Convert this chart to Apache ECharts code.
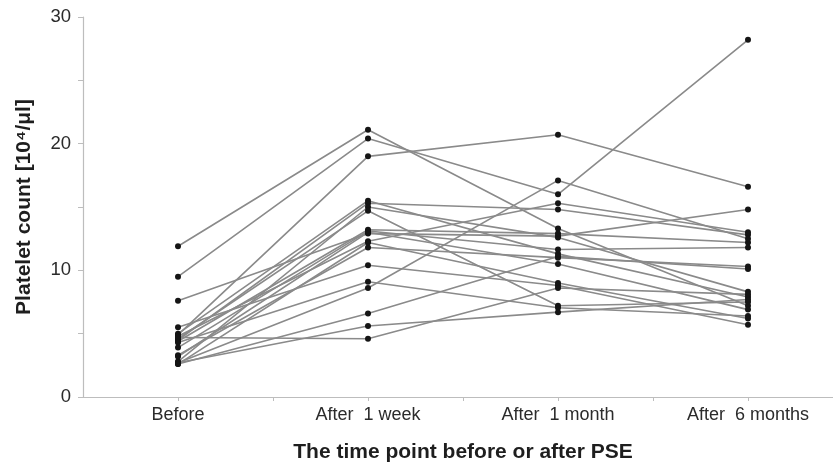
<!DOCTYPE html>
<html>
<head>
<meta charset="utf-8">
<script src="https://cdn.jsdelivr.net/npm/echarts@6/dist/echarts.min.js"></script>
<style>
  html, body { margin: 0; padding: 0; background: #fff; }
  #chart { width: 833px; height: 466px; }
</style>
</head>
<body>
<div id="chart"></div>
<script>
// time points
var categories = ['Before', 'After  1 week', 'After  1 month', 'After  6 months']
// platelet count per patient at each time point (10^4/ul), same patient order in every list
var before = [11.9, 9.5, 4.9, 7.6, 5.0, 4.5, 2.8, 4.6, 4.4, 3.9, 4.8, 3.3, 5.5, 4.3, 2.7, 2.6, 2.7, 4.7, 3.2, 2.6]
var week1 = [21.1, 20.4, 19.0, 12.9, 15.5, 15.3, 15.0, 14.7, 13.2, 13.1, 12.3, 11.8, 10.4, 9.1, 8.6, 6.6, 5.6, 4.6, 13.0, 12.2]
var month1 = [13.3, 16.0, 20.7, 12.7, 11.3, 14.8, 12.6, 7.2, 12.9, 11.65, 15.3, 11.0, 8.8, 7.05, 17.1, 11.1, 6.7, 8.6, 10.5, 9.0]
var month6 = [7.2, 28.2, 16.6, 14.8, 7.9, 12.8, 8.3, 7.5, 12.2, 11.8, 13.0, 10.3, 5.7, 6.4, 12.5, 10.1, 7.7, 8.1, 6.9, 6.2]
var yTicks = [0, 10, 20, 30]

var chart = echarts.init(document.getElementById('chart'))

var series = []
for (var i = 0; i < before.length; i++) {
  series.push({
    type: 'line',
    data: [[1, before[i]], [2, week1[i]], [3, month1[i]], [4, month6[i]]],
    symbol: 'circle',
    symbolSize: 6,
    itemStyle: { color: '#151515' },
    lineStyle: { color: '#8a8a8a', width: 1.6 },
    emphasis: { disabled: true },
    z: 2
  })
}

chart.setOption({
  animation: false,
  grid: { left: 83, top: 17, bottom: 69, width: 760, outerBoundsMode: 'none' },
  xAxis: {
    type: 'value',
    min: 0.5,
    max: 4.5,
    interval: 0.5,
    splitLine: { show: false },
    axisLine: { lineStyle: { color: '#bdbdbd', width: 1.2 } },
    axisTick: { show: true, length: 4, lineStyle: { color: '#bdbdbd' } },
    axisLabel: {
      margin: 9,
      fontFamily: 'Liberation Sans',
      fontSize: 18,
      color: '#2b2b2b',
      showMinLabel: false,
      showMaxLabel: false,
      formatter: function (v) {
        return v % 1 === 0 ? categories[v - 1] : ''
      }
    },
    name: 'The time point before or after PSE',
    nameLocation: 'middle',
    nameGap: 45,
    nameTextStyle: { fontFamily: 'Liberation Sans', fontSize: 21, fontWeight: 'bold', color: '#1e1e1e' }
  },
  yAxis: {
    type: 'value',
    min: 0,
    max: 30,
    interval: 5,
    splitLine: { show: false },
    axisLine: { show: true, lineStyle: { color: '#bdbdbd', width: 1.2 } },
    axisTick: { show: true, length: 5, lineStyle: { color: '#bdbdbd' } },
    axisLabel: {
      margin: 12,
      fontFamily: 'Liberation Sans',
      fontSize: 18.5,
      color: '#2b2b2b',
      formatter: function (v) {
        return yTicks.indexOf(v) >= 0 ? String(v) : ''
      }
    },
    name: 'Platelet count [10⁴/μl]',
    nameLocation: 'middle',
    nameGap: 48,
    nameTextStyle: { fontFamily: 'Liberation Sans', fontSize: 21, fontWeight: 'bold', color: '#1e1e1e' }
  },
  series: series
})
</script>
</body>
</html>
